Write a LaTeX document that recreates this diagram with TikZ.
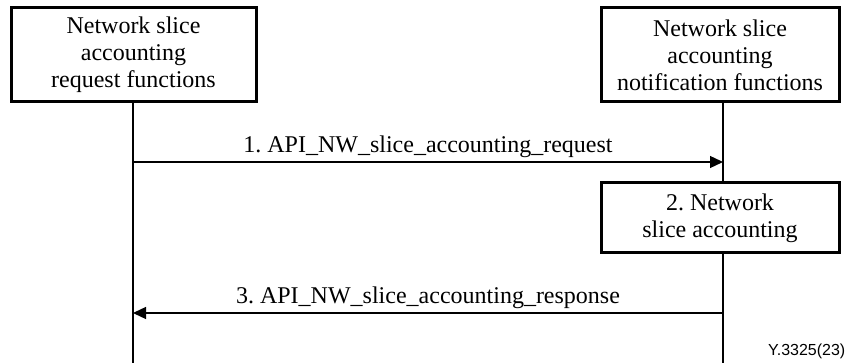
\documentclass[tikz,border=0pt]{standalone}
\usepackage{fontspec}
\setmainfont{Liberation Serif}
\newfontfamily\labelsans{Liberation Sans}
\usetikzlibrary{arrows.meta}
\frenchspacing
\begin{document}
\begin{tikzpicture}[x=1pt,y=-1pt,
  entity/.style={draw,line width=3pt,align=center,inner sep=0pt,
    font=\fontsize{24}{27}\selectfont},
  lifeline/.style={line width=1.3pt},
  msg/.style={line width=1.3pt,-{Triangle[length=13pt,width=12pt]}},
  msglabel/.style={font=\fontsize{24}{27}\selectfont,inner sep=0pt}]
\useasboundingbox (0,0) rectangle (846,363);
\node[entity,minimum width=245pt,minimum height=94pt] (req) at (133.5,55) {Network slice\\accounting\\request functions};
\node[entity,minimum width=238pt,minimum height=94pt] (notif) at (720,55) {Network slice\\accounting\\notification functions};
\node[entity,minimum width=238pt,minimum height=70pt] (acc) at (720,218) {2. Network\\slice accounting};
\coordinate (lb) at (133,363);
\coordinate (rb) at (723,363);
\coordinate (l1) at (133,162);
\coordinate (r1) at (723,162);
\coordinate (l3) at (133,313);
\coordinate (r3) at (723,313);
\draw[lifeline] (req.south -| lb) -- (lb);
\draw[lifeline] (notif.south -| rb) -- (acc.north -| rb);
\draw[lifeline] (acc.south -| rb) -- (rb);
\draw[msg] (l1) -- node[msglabel,above=4pt] (m1) {1. API\_NW\_slice\_accounting\_request} (r1);
\draw[msg] (r3) -- node[msglabel,above=4pt] (m3) {3. API\_NW\_slice\_accounting\_response} (l3);
\node[font=\labelsans\fontsize{16}{18}\selectfont,anchor=east,inner sep=0pt] (tag) at (845.5,351) {Y.3325(23)};
\end{tikzpicture}
\end{document}
